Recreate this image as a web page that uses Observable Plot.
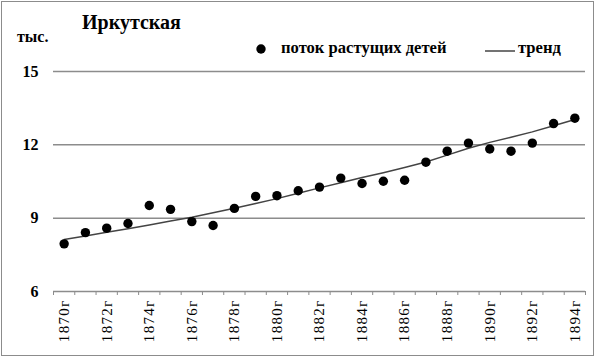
<!DOCTYPE html>
<html>
<head>
<meta charset="utf-8">
<script src="https://cdn.jsdelivr.net/npm/d3@7"></script>
<script src="https://cdn.jsdelivr.net/npm/@observablehq/plot@0.6"></script>
<style>
  html, body { margin: 0; padding: 0; background: #fff; }
  #wrap { position: relative; width: 600px; height: 357px; font-family: "Liberation Serif", "Times New Roman", Tinos, "Nimbus Roman", "Noto Serif", "DejaVu Serif", serif; color: #000; }
  #border { position: absolute; left: 1px; top: 1px; width: 591px; height: 353px; border: 1.5px solid #8c8c8c; pointer-events: none; }
  #title { position: absolute; left: 82px; top: 11px; font-size: 20px; font-weight: bold; }
  #unit { position: absolute; left: 17px; top: 28px; font-size: 16px; font-weight: bold; }
  .leg { position: absolute; top: 38px; font-size: 16.6px; font-weight: bold; white-space: nowrap; }
  #chart { position: absolute; left: 0; top: 0; }
</style>
</head>
<body>
<div id="wrap">
  <div id="chart"></div>
  <div id="title">Иркутская</div>
  <div id="unit">тыс.</div>
  <svg class="leg" style="left:254px; top:42px; position:absolute" width="14" height="14"><circle cx="7" cy="7" r="4.7" fill="#000"/></svg>
  <div class="leg" style="left:281px">поток растущих детей</div>
  <svg class="leg" style="left:485px; top:44px; position:absolute" width="30" height="14"><line x1="0" x2="30" y1="7" y2="7" stroke="#444" stroke-width="1.5"/></svg>
  <div class="leg" style="left:518px">тренд</div>
  <div id="border"></div>
</div>
<script>
// Data
const years = [1870,1871,1872,1873,1874,1875,1876,1877,1878,1879,1880,1881,1882,1883,1884,1885,1886,1887,1888,1889,1890,1891,1892,1893,1894];
const flow  = [7.95,8.41,8.59,8.78,9.52,9.36,8.86,8.70,9.40,9.89,9.92,10.12,10.27,10.64,10.42,10.51,10.55,11.29,11.74,12.07,11.83,11.74,12.07,12.87,13.09];
const trend = [8.13,8.27,8.42,8.57,8.72,8.88,9.04,9.22,9.41,9.60,9.80,10.02,10.24,10.45,10.66,10.86,11.07,11.30,11.58,11.86,12.10,12.31,12.53,12.78,13.04];
const yTicks = [6, 9, 12, 15];
const labelYears = [1870,1872,1874,1876,1878,1880,1882,1884,1886,1888,1890,1892,1894];
const yearSuffix = "г";

const points = years.map((y, i) => ({year: y, value: flow[i]}));
const trendPts = years.map((y, i) => ({year: y, value: trend[i]}));
const boundaries = [years[0] - 0.5, ...years.map(y => y + 0.5)];

const chart = Plot.plot({
  width: 600,
  height: 357,
  marginTop: 71,
  marginBottom: 66,
  marginLeft: 53,
  marginRight: 15,
  style: {fontFamily: "'Liberation Serif', 'Times New Roman', Tinos, 'Nimbus Roman', 'Noto Serif', 'DejaVu Serif', serif", color: "#000", background: "transparent"},
  x: {domain: [years[0] - 0.5, years[years.length - 1] + 0.5], axis: null},
  y: {domain: [yTicks[0], yTicks[yTicks.length - 1]], axis: null},
  marks: [
    Plot.gridY(yTicks.slice(1), {stroke: "#8c8c8c", strokeOpacity: 1, strokeWidth: 1.5}),
    Plot.ruleY([yTicks[0]], {stroke: "#8c8c8c", strokeWidth: 1.5}),
    Plot.ruleX(boundaries, {x: d => d, y1: yTicks[0], y2: yTicks[0], insetBottom: -4, stroke: "#8c8c8c", strokeWidth: 1}),
    Plot.axisY(yTicks, {tickSize: 0, tickPadding: 15, fontSize: 16, fontWeight: "bold", label: null, fill: "#000"}),
    Plot.text(labelYears, {x: d => d, y: yTicks[0], text: d => d + yearSuffix, rotate: -90, textAnchor: "end", lineAnchor: "middle", dy: 8, fontSize: 15, fill: "#000"}),
    Plot.line(trendPts, {x: "year", y: "value", stroke: "#444", strokeWidth: 1.5}),
    Plot.dot(points, {x: "year", y: "value", r: 4.7, fill: "#000", stroke: "none"})
  ]
});
d3.select(chart).selectAll("text").filter(function() {
  return (this.getAttribute("transform") || "").includes("rotate");
}).style("letter-spacing", "1.3px");
document.getElementById("chart").appendChild(chart);
</script>
</body>
</html>
